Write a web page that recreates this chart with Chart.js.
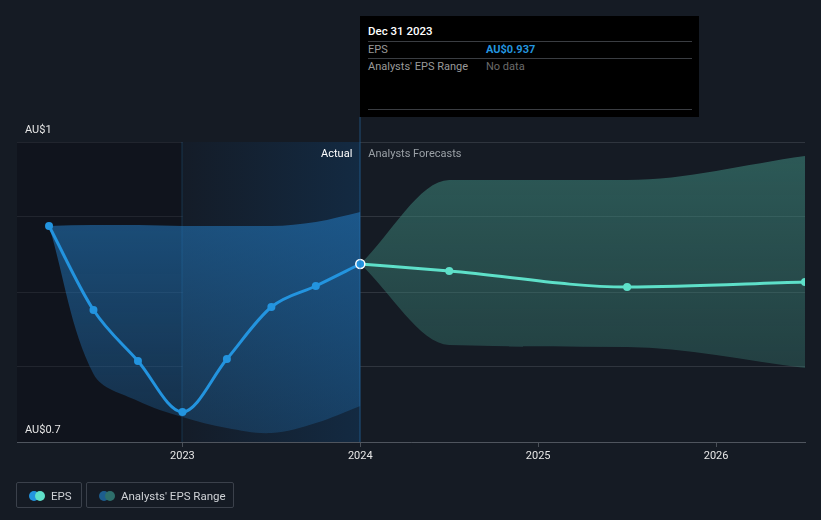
<!DOCTYPE html>
<html>
<head>
<meta charset="utf-8">
<script src="https://cdn.jsdelivr.net/npm/chart.js@4/dist/chart.umd.min.js"></script>
<style>
  html, body { margin: 0; padding: 0; background: #151b24; }
  #wrap { position: relative; width: 821px; height: 520px; font-family: Roboto, "Noto Sans", sans-serif; }
  canvas { position: absolute; left: 0; top: 0; }
  .tip { position: absolute; left: 360px; top: 16px; width: 339px; height: 101px; background: #000; }
  .tip .t { position: absolute; left: 8px; top: 8px; color: #fff; font-size: 11.5px; font-weight: 500; }
  .tip .hr { position: absolute; left: 8px; width: 324px; height: 1px; background: #3a3d42; }
  .tip .k { position: absolute; left: 8px; color: #9a9a9a; font-size: 11px; }
  .tip .v { position: absolute; left: 126px; font-size: 11px; }
  .legend { position: absolute; top: 482px; height: 26px; border: 1px solid #3b414b; border-radius: 2px; box-sizing: border-box; color: #cfd2d6; font-size: 11.5px; }
  .legend span.txt { position: absolute; top: 6px; }
  .dot { position: absolute; top: 8px; width: 10px; height: 10px; border-radius: 50%; }
</style>
</head>
<body>
<div id="wrap">
  <canvas id="c" width="821" height="520"></canvas>
  <div class="tip">
    <div class="t">Dec 31 2023</div>
    <div class="hr" style="top:25px"></div>
    <div class="k" style="top:27px">EPS</div>
    <div class="v" style="top:27px;color:#2394df;font-weight:700">AU$0.937</div>
    <div class="hr" style="top:42px"></div>
    <div class="k" style="top:44px">Analysts' EPS Range</div>
    <div class="v" style="top:44px;color:#6b6b6b">No data</div>
    <div class="hr" style="top:93px"></div>
  </div>
  <div class="legend" style="left:16px;width:66px">
    <div class="dot" style="left:12px;background:#2394df"></div>
    <div class="dot" style="left:18px;background:#5ee0c9"></div>
    <span class="txt" style="left:34px">EPS</span>
  </div>
  <div class="legend" style="left:86px;width:148px">
    <div class="dot" style="left:12px;background:#1d5d8e"></div>
    <div class="dot" style="left:18px;background:#2e6f6b"></div>
    <span class="txt" style="left:34px">Analysts' EPS Range</span>
  </div>
</div>
<script>
// ---- data ----
const histDates = [2022.25, 2022.5, 2022.75, 2023.0, 2023.25, 2023.5, 2023.75, 2024.0];
const histEps = [0.916, 0.832, 0.781, 0.730, 0.783, 0.835, 0.856, 0.878];
const histRangeHigh = [0.916, 0.917, 0.917, 0.916, 0.916, 0.916, 0.920, 0.930];
const histRangeLow = [0.916, 0.768, 0.741, 0.725, 0.714, 0.709, 0.719, 0.736];
const fcDates = [2024.0, 2024.5, 2025.5, 2026.5];
const fcEps = [0.878, 0.871, 0.855, 0.860];
const fcRangeHigh = [0.878, 0.962, 0.962, 0.986];
const fcRangeLow = [0.878, 0.797, 0.795, 0.774];
const xTickYears = [2023, 2024, 2025, 2026];
const yGridValues = [0.7, 0.775, 0.85, 0.925, 1.0];
const yLabelValues = [1, 0.7];
const yLabelText = ['AU$1', 'AU$0.7'];
const nowYear = 2024.0;
const highlightStart = 2023.0;

const pts = (xs, ys) => xs.map((x, i) => ({ x: x, y: ys[i] }));

function vGrad(ctx, area, top, bottom) {
  const g = ctx.createLinearGradient(0, area.top, 0, area.bottom);
  g.addColorStop(0, top); g.addColorStop(1, bottom);
  return g;
}

const bgPlugin = {
  id: 'bg',
  beforeDatasetsDraw(chart) {
    const { ctx, chartArea: a, scales: { x } } = chart;
    const xNow = x.getPixelForValue(nowYear);
    const xHi = x.getPixelForValue(highlightStart);
    ctx.save();
    ctx.fillStyle = 'rgba(8,10,16,0.35)';
    ctx.fillRect(a.left, a.top, xHi - a.left, a.bottom - a.top);
    const g = ctx.createLinearGradient(xHi, 0, xNow, 0);
    g.addColorStop(0, 'rgba(20,28,40,1)');
    g.addColorStop(1, 'rgba(19,42,66,1)');
    ctx.fillStyle = g;
    ctx.fillRect(xHi, a.top, xNow - xHi, a.bottom - a.top);
    ctx.fillStyle = 'rgba(35,110,170,0.35)';
    ctx.fillRect(Math.round(xHi) - 0.5, a.top, 1, a.bottom - a.top);
    ctx.restore();
  },
  afterDatasetsDraw(chart) {
    const { ctx, chartArea: a, scales: { x, y } } = chart;
    const xNow = x.getPixelForValue(nowYear);
    ctx.save();
    ctx.fillStyle = 'rgba(40,120,185,0.55)';
    ctx.fillRect(Math.round(xNow) - 0.5, 117, 1, a.bottom - 117);
    ctx.font = '11px Roboto, "Noto Sans", sans-serif';
    ctx.textBaseline = 'middle';
    ctx.fillStyle = '#ffffff';
    ctx.textAlign = 'right';
    ctx.fillText('Actual', xNow - 8, a.top + 12);
    ctx.fillStyle = '#9aa0a6';
    ctx.textAlign = 'left';
    ctx.fillText('Analysts Forecasts', xNow + 8, a.top + 12);
    ctx.fillStyle = '#e6e6e6';
    yLabelValues.forEach((v, i) => {
      ctx.fillText(yLabelText[i], 25, y.getPixelForValue(v) - 12);
    });
    ctx.restore();
  }
};

new Chart(document.getElementById('c'), {
  type: 'line',
  data: {
    datasets: [
      {
        data: pts(histDates, histEps), order: 1,
        borderColor: '#2394df', borderWidth: 3,
        pointRadius: histDates.map((d, i) => i === histDates.length - 1 ? 4.5 : 4),
        pointBackgroundColor: '#2394df',
        pointBorderColor: histDates.map((d, i) => i === histDates.length - 1 ? '#ffffff' : '#2394df'),
        pointBorderWidth: histDates.map((d, i) => i === histDates.length - 1 ? 1.5 : 0),
        cubicInterpolationMode: 'monotone', fill: false
      },
      {
        data: pts(fcDates, fcEps), order: 2,
        borderColor: '#5ee0c9', borderWidth: 3,
        pointRadius: fcDates.map((d, i) => i === 0 ? 0 : 4),
        pointBackgroundColor: '#5ee0c9', pointBorderWidth: 0,
        cubicInterpolationMode: 'monotone', fill: false
      },
      {
        data: pts(histDates, histRangeHigh), order: 10,
        borderWidth: 0, pointRadius: 0, cubicInterpolationMode: 'monotone',
        fill: '+1',
        backgroundColor: (c) => c.chart.chartArea ? vGrad(c.chart.ctx, c.chart.chartArea, 'rgba(34,120,190,0.68)', 'rgba(34,120,190,0.25)') : 'rgba(34,120,190,0.5)'
      },
      {
        data: pts(histDates, histRangeLow), order: 11,
        borderWidth: 0, pointRadius: 0, tension: 0.35, fill: false
      },
      {
        data: pts(fcDates, fcRangeHigh), order: 12,
        borderWidth: 0, pointRadius: 0, cubicInterpolationMode: 'monotone',
        fill: '+1',
        backgroundColor: (c) => c.chart.chartArea ? vGrad(c.chart.ctx, c.chart.chartArea, 'rgba(60,130,120,0.62)', 'rgba(60,130,120,0.28)') : 'rgba(60,130,120,0.45)'
      },
      {
        data: pts(fcDates, fcRangeLow), order: 13,
        borderWidth: 0, pointRadius: 0, cubicInterpolationMode: 'monotone', fill: false
      }
    ]
  },
  options: {
    responsive: false, animation: false,
    layout: { padding: { left: 17, right: 16, top: 142, bottom: 48 } },
    plugins: { legend: { display: false }, tooltip: { enabled: false } },
    scales: {
      x: {
        type: 'linear', min: 2022.07, max: 2026.5,
        afterBuildTicks: (s) => { s.ticks = xTickYears.map(v => ({ value: v })); },
        afterFit: (s) => { s.height = 30; },
        grid: { drawOnChartArea: false, tickLength: 5, color: '#4a5058' },
        border: { color: '#4f555e', width: 1 },
        ticks: { color: '#e6e6e6', padding: 3, font: { size: 11, family: 'Roboto' }, callback: (v) => String(v), maxRotation: 0 }
      },
      y: {
        min: 0.7, max: 1.0,
        afterBuildTicks: (s) => { s.ticks = yGridValues.map(v => ({ value: v })); },
        afterFit: (s) => { s.width = 0; },
        grid: { color: '#2f353e', drawTicks: false },
        border: { display: false },
        ticks: { display: false }
      }
    }
  },
  plugins: [bgPlugin]
});
</script>
</body>
</html>
